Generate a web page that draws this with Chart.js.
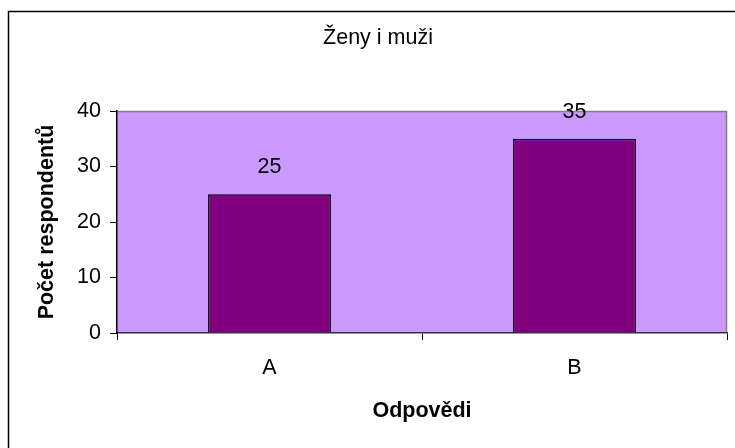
<!DOCTYPE html>
<html>
<head>
<meta charset="utf-8">
<script src="https://cdn.jsdelivr.net/npm/chart.js@4"></script>
<style>
  html, body { margin: 0; padding: 0; background: #fff; }
  #wrap { width: 735px; height: 448px; }
</style>
</head>
<body>
<div id="wrap"><canvas id="chart" width="735" height="448"></canvas></div>
<script>
/* ── Data ── */
const chartTitle  = 'Ženy i muži';
const categories  = ['A', 'B'];
const respondents = [25, 35];
const yTicks      = [0, 10, 20, 30, 40];
const xTitle      = 'Odpovědi';
const yTitle      = 'Počet respondentů';

const FONT = "'Liberation Sans', Arial, sans-serif";
const FS   = 21.5;

/* ── Frame, plot background, title ── */
const frame = {
    id: 'frame',
    beforeDraw(chart) {
        const { ctx, chartArea: a } = chart;
        ctx.save();
        ctx.fillStyle = '#CC99FF';
        ctx.fillRect(a.left, a.top, a.right - a.left, a.bottom - a.top);
        ctx.strokeStyle = '#808080';
        ctx.lineWidth = 1.5;
        ctx.beginPath();
        ctx.moveTo(a.left, a.top + 0.5);
        ctx.lineTo(a.right - 0.5, a.top + 0.5);
        ctx.lineTo(a.right - 0.5, a.bottom);
        ctx.stroke();

        // outer chart border (only left and top visible)
        ctx.strokeStyle = '#000';
        ctx.lineWidth = 1.5;
        ctx.beginPath();
        ctx.moveTo(8.5, 448);
        ctx.lineTo(8.5, 11.5);
        ctx.lineTo(735, 11.5);
        ctx.stroke();

        ctx.fillStyle = '#000';
        ctx.font = FS + 'px ' + FONT;
        ctx.textAlign = 'center';
        ctx.textBaseline = 'middle';
        ctx.fillText(chartTitle, 378, 38);
        ctx.restore();
    }
};

/* ── Value labels above bars ── */
const valueLabels = {
    id: 'valueLabels',
    afterDatasetsDraw(chart) {
        const { ctx } = chart;
        const meta = chart.getDatasetMeta(0);
        ctx.save();
        ctx.fillStyle = '#000';
        ctx.font = FS + 'px ' + FONT;
        ctx.textAlign = 'center';
        ctx.textBaseline = 'middle';
        meta.data.forEach((bar, i) => {
            ctx.fillText(String(respondents[i]), bar.x, bar.y - 27);
        });
        ctx.restore();
    }
};

new Chart(document.getElementById('chart'), {
    type: 'bar',
    data: {
        labels: categories,
        datasets: [{
            data: respondents,
            backgroundColor: '#800080',
            borderColor: '#000',
            borderWidth: 1.5,
            categoryPercentage: 1,
            barPercentage: 0.403
        }]
    },
    options: {
        responsive: false,
        animation: false,
        layout: { padding: { top: 111, right: 8, left: 0, bottom: 0 } },
        plugins: {
            legend: { display: false },
            tooltip: { enabled: false },
            title: { display: false }
        },
        scales: {
            x: {
                afterFit(scale) { scale.height = 115; },
                grid: { display: true, drawOnChartArea: false, offset: true, tickLength: 7, color: '#000' },
                border: { color: '#333', width: 1.5 },
                ticks: { color: '#000', font: { family: FONT, size: FS }, padding: 15, maxRotation: 0 },
                title: {
                    display: true, text: xTitle, color: '#000',
                    font: { family: FONT, size: FS, weight: 'bold' },
                    padding: { top: 0, bottom: 24 }
                }
            },
            y: {
                min: 0, max: 40,
                afterFit(scale) { scale.width = 117; },
                afterBuildTicks(scale) { scale.ticks = yTicks.map(v => ({ value: v })); },
                grid: { display: true, drawOnChartArea: false, tickLength: 7, color: '#000' },
                border: { color: '#000', width: 1.5 },
                ticks: { color: '#000', font: { family: FONT, size: FS }, padding: 9 },
                title: {
                    display: true, text: yTitle, color: '#000',
                    font: { family: FONT, size: FS, weight: 'bold' },
                    padding: { top: 34, bottom: 0 }
                }
            }
        }
    },
    plugins: [frame, valueLabels]
});
</script>
</body>
</html>
